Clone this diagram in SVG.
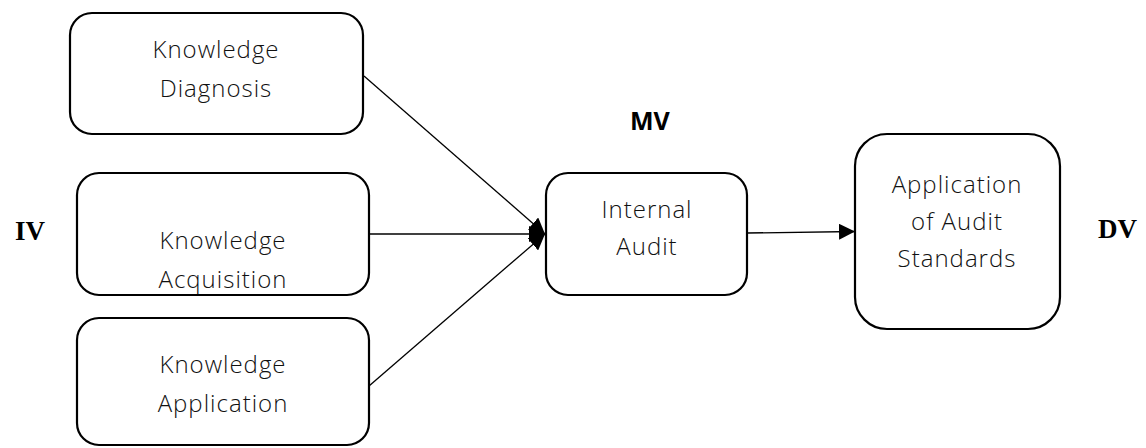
<svg xmlns="http://www.w3.org/2000/svg" width="1146" height="448" viewBox="0 0 1146 448">
<style>
.box{fill:#fff;stroke:#000;stroke-width:2.2}
.t{font-family:"Open Sans","Noto Sans",sans-serif;font-weight:300;font-size:24px;letter-spacing:1px;fill:#111;text-anchor:middle}
.lab{font-family:"Liberation Serif","Times New Roman",serif;font-weight:bold;font-size:27px;fill:#000}
.mv{font-family:"Open Sans","Liberation Sans",sans-serif;font-weight:bold;font-size:25px;fill:#000}
.c{stroke:#000;stroke-width:1.3;fill:none}
</style>
<defs>
<marker id="ah" viewBox="0 0 16 16" refX="16" refY="8" markerWidth="16" markerHeight="16" markerUnits="userSpaceOnUse" orient="auto">
<path d="M0,0 L16,8 L0,16 Z" fill="#000"/>
</marker>
</defs>
<g id="connectors">
<line class="c" x1="364" y1="76" x2="545" y2="234" marker-end="url(#ah)"/>
<line class="c" x1="369" y1="234" x2="545" y2="234" marker-end="url(#ah)"/>
<line class="c" x1="369" y1="386" x2="545" y2="234" marker-end="url(#ah)"/>
<line class="c" x1="747" y1="233" x2="855" y2="231.5" marker-end="url(#ah)"/>
</g>
<g id="kd">
<rect class="box" x="70" y="13" width="293" height="121" rx="22"/>
<text class="t" x="216" y="58">Knowledge</text>
<text class="t" x="216" y="97">Diagnosis</text>
</g>
<g id="kacq">
<rect class="box" x="77" y="173" width="292" height="122" rx="22"/>
<text class="t" x="223" y="249">Knowledge</text>
<text class="t" x="223" y="288">Acquisition</text>
</g>
<g id="kapp">
<rect class="box" x="77" y="318" width="292" height="127" rx="22"/>
<text class="t" x="223" y="373">Knowledge</text>
<text class="t" x="223" y="412">Application</text>
</g>
<g id="ia">
<rect class="box" x="546" y="173" width="201" height="122" rx="22"/>
<text class="t" x="647" y="218">Internal</text>
<text class="t" x="647" y="255">Audit</text>
</g>
<g id="aas">
<rect class="box" x="855" y="134" width="205" height="195" rx="32"/>
<text class="t" x="957" y="193">Application</text>
<text class="t" x="957" y="230">of Audit</text>
<text class="t" x="957" y="267">Standards</text>
</g>
<g id="labels">
<text class="lab" x="15" y="240">IV</text>
<text class="lab" x="1098" y="238">DV</text>
<text class="mv" x="630" y="130">MV</text>
</g>
</svg>
